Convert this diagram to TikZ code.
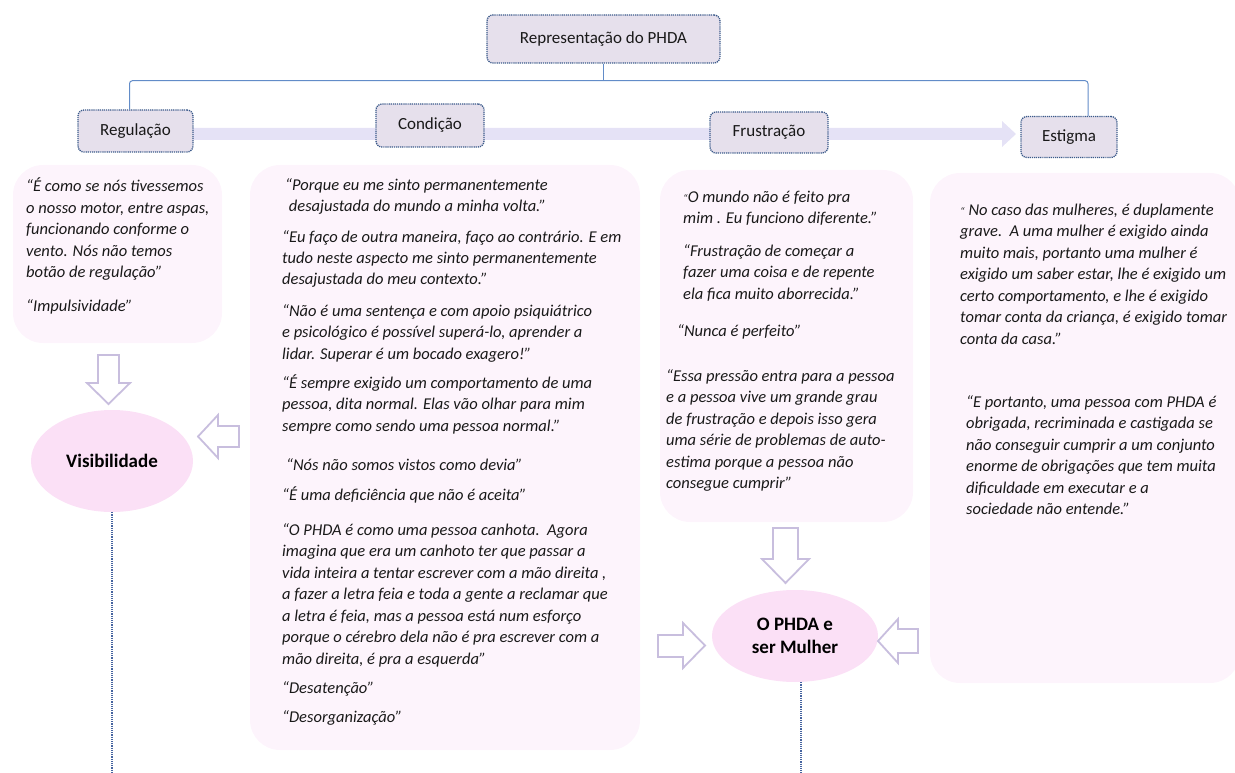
\documentclass[tikz,border=0pt]{standalone}
\usepackage{fontspec}
\setmainfont{Carlito}
\usetikzlibrary{shapes.geometric,backgrounds,calc}
\definecolor{catfill}{RGB}{230,224,236}
\definecolor{catborder}{RGB}{59,90,138}
\definecolor{treeline}{RGB}{98,140,200}
\definecolor{bandfill}{RGB}{229,226,246}
\definecolor{pinkbox}{RGB}{253,244,252}
\definecolor{ellfill}{RGB}{251,224,246}
\definecolor{arrowline}{RGB}{200,190,222}
\definecolor{dotline}{RGB}{70,100,160}
\definecolor{txt}{RGB}{25,25,25}
\newcommand{\qpara}[1]{\vtop{\baselineskip=21.5pt\lineskiplimit=-1000pt\lineskip=0pt\halign{##\hfil\cr#1\crcr}}}
\newcommand{\smallq}{{\fontsize{11}{12}\selectfont“}}
\begin{document}
\begin{tikzpicture}[x=1pt,y=-1pt,
  catbox/.style={draw=catborder, dash pattern=on 1.2pt off 0.9pt, line width=1.3pt, fill=catfill, rounded corners=6pt, inner sep=0pt, font=\fontsize{17}{20}\selectfont, text=txt},
  pinkq/.style={fill=pinkbox, rounded corners=30pt, inner sep=0pt},
  ellnode/.style={ellipse, fill=ellfill, inner sep=0pt, font=\fontsize{19}{23}\selectfont\bfseries, text=black, align=center},
  quote/.style={anchor=base west, inner sep=0pt, font=\fontsize{16.5}{21.5}\selectfont\itshape, text=txt},
  tree/.style={draw=treeline, line width=1pt, rounded corners=3pt},
  hollow/.style={draw=arrowline, fill=white, line width=1.8pt, line join=miter},
  dotconn/.style={draw=dotline, line width=1.4pt, dash pattern=on 1.2pt off 1pt}]
\useasboundingbox (0,0) rectangle (1235,773);

% quote panels
\node[pinkq, minimum width=209pt, minimum height=178pt] (regq) at (117.5,254) {};
\node[pinkq, minimum width=390pt, minimum height=585pt] (condq) at (445,457.5) {};
\node[pinkq, minimum width=253pt, minimum height=352pt] (frusq) at (786.5,346) {};
\node[pinkq, minimum width=310pt, minimum height=510pt] (estq) at (1085,428) {};

% category boxes
\node[catbox, minimum width=233pt, minimum height=48pt] (top) at (603.5,39) {Representação do PHDA};
\node[catbox, minimum width=115pt, minimum height=42pt] (reg) at (135.5,131) {Regulação};
\node[catbox, minimum width=108pt, minimum height=43pt] (cond) at (430,125.5) {Condição};
\node[catbox, minimum width=118pt, minimum height=41pt] (frus) at (769,132.5) {Frustração};
\node[catbox, minimum width=96pt, minimum height=41pt] (est) at (1069,137) {Estigma};

\begin{pgfonlayer}{background}
\fill[bandfill] (193,128) -- (1002,128) -- (1002,121) -- (1016,134) -- (1002,147) -- (1002,140) -- (193,140) -- cycle;
\end{pgfonlayer}

% tree connectors
\coordinate (tj) at ($(top.south)+(0,17)$);
\draw[tree] (top.south) -- (tj);
\draw[tree] ([xshift=-6pt]reg.north) |- (tj) -| ([xshift=19pt]est.north);

% quotes: Regulação
\node[quote] (r1) at (26,192) {\qpara{“É como se nós tivessemos\cr
o nosso motor, entre aspas,\cr
funcionando conforme o\cr
vento. Nós não temos\cr
botão de regulação”}};
\node[quote] (r2) at (26,311) {“Impulsividade”};

% quotes: Condição
\node[quote] (c1) at (285,190) {\qpara{“Porque eu me sinto permanentemente\cr
\ desajustada do mundo a minha volta.”}};
\node[quote] (c2) at (282,242) {\qpara{“Eu faço de outra maneira, faço ao contrário. E em\cr
tudo neste aspecto me sinto permanentemente\cr
desajustada do meu contexto.”}};
\node[quote] (c3) at (282,316) {\qpara{“Não é uma sentença e com apoio psiquiátrico\cr
e psicológico é possível superá-lo, aprender a\cr
lidar. Superar é um bocado exagero!”}};
\node[quote] (c4) at (282,388) {\qpara{“É sempre exigido um comportamento de uma\cr
pessoa, dita normal. Elas vão olhar para mim\cr
sempre como sendo uma pessoa normal.”}};
\node[quote] (c5) at (286,470) {“Nós não somos vistos como devia”};
\node[quote] (c6) at (282,500) {“É uma deficiência que não é aceita”};
\node[quote] (c7) at (282,535) {\qpara{“O PHDA é como uma pessoa canhota.\ \ Agora\cr
imagina que era um canhoto ter que passar a\cr
vida inteira a tentar escrever com a mão direita ,\cr
a fazer a letra feia e toda a gente a reclamar que\cr
a letra é feia, mas a pessoa está num esforço\cr
porque o cérebro dela não é pra escrever com a\cr
mão direita, é pra a esquerda”}};
\node[quote] (c8) at (282,693) {“Desatenção”};
\node[quote] (c9) at (282,722) {“Desorganização”};

% quotes: Frustração
\node[quote] (f1) at (683,202) {\qpara{\smallq O mundo não é feito pra\cr
mim . Eu funciono diferente.”}};
\node[quote] (f2) at (683,256) {\qpara{“Frustração de começar a\cr
fazer uma coisa e de repente\cr
ela fica muito aborrecida.”}};
\node[quote] (f3) at (677,336) {“Nunca é perfeito”};
\node[quote] (f4) at (666,381) {\qpara{“Essa pressão entra para a pessoa\cr
e a pessoa vive um grande grau\cr
de frustração e depois isso gera\cr
uma série de problemas de auto-\cr
estima porque a pessoa não\cr
consegue cumprir”}};

% quotes: Estigma
\node[quote] (e1) at (960,215) {\qpara{\smallq\ No caso das mulheres, é duplamente\cr
grave.\ \ A uma mulher é exigido ainda\cr
muito mais, portanto uma mulher é\cr
exigido um saber estar, lhe é exigido um\cr
certo comportamento, e lhe é exigido\cr
tomar conta da criança, é exigido tomar\cr
conta da casa.”}};
\node[quote] (e2) at (966,407) {\qpara{“E portanto, uma pessoa com PHDA é\cr
obrigada, recriminada e castigada se\cr
não conseguir cumprir a um conjunto\cr
enorme de obrigações que tem muita\cr
dificuldade em executar e a\cr
sociedade não entende.”}};

% outcome ellipses
\node[ellnode, minimum width=162pt, minimum height=102pt] (vis) at (112,461) {Visibilidade};
\node[ellnode, minimum width=166pt, minimum height=92pt] (mul) at (795,636) {O PHDA e\\ser Mulher};

% hollow block arrows
\draw[hollow] (98,355) -- (119,355) -- (119,383) -- (130,383) -- (108.5,404) -- (87,383) -- (98,383) -- cycle;
\draw[hollow] (239,426) -- (218,426) -- (218,415) -- (198,436.5) -- (218,458) -- (218,447) -- (239,447) -- cycle;
\draw[hollow] (773,528) -- (798,528) -- (798,559) -- (809,559) -- (785.5,583) -- (762,559) -- (773,559) -- cycle;
\draw[hollow] (658,635) -- (683,635) -- (683,623) -- (705,645.5) -- (683,668) -- (683,657) -- (658,657) -- cycle;
\draw[hollow] (918,629) -- (898,629) -- (898,619) -- (878,641) -- (898,663) -- (898,653) -- (918,653) -- cycle;

% dotted lines downwards
\coordinate (visend) at (112,773);
\coordinate (mulend) at (801,773);
\draw[dotconn] (vis.south) -- (visend);
\draw[dotconn] (mul.south -| mulend) -- (mulend);
\end{tikzpicture}
\end{document}
